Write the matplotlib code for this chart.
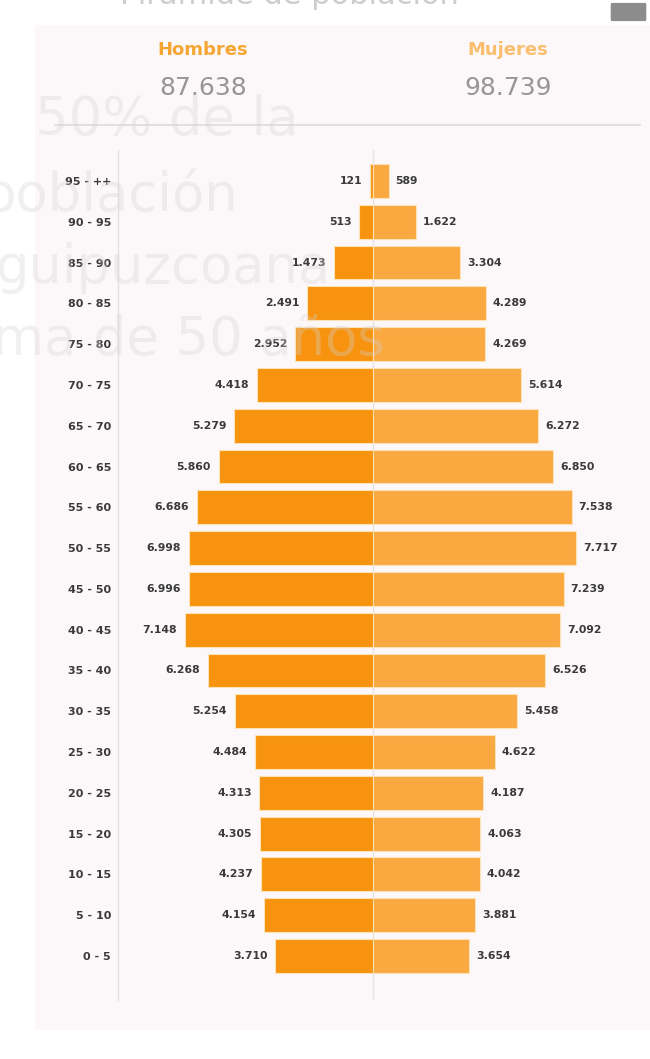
import matplotlib
matplotlib.use("Agg")
import matplotlib.pyplot as plt
from matplotlib.patches import Rectangle, FancyBboxPatch

# ---------------- data ----------------
age_groups = ["0 - 5", "5 - 10", "10 - 15", "15 - 20", "20 - 25", "25 - 30",
              "30 - 35", "35 - 40", "40 - 45", "45 - 50", "50 - 55", "55 - 60",
              "60 - 65", "65 - 70", "70 - 75", "75 - 80", "80 - 85", "85 - 90",
              "90 - 95", "95 - ++"]
hombres = [3710, 4154, 4237, 4305, 4313, 4484, 5254, 6268, 7148, 6996,
           6998, 6686, 5860, 5279, 4418, 2952, 2491, 1473, 513, 121]
mujeres = [3654, 3881, 4042, 4063, 4187, 4622, 5458, 6526, 7092, 7239,
           7717, 7538, 6850, 6272, 5614, 4269, 4289, 3304, 1622, 589]
total_hombres = "87.638"
total_mujeres = "98.739"
ghost_lines = ["50% de la", "población", "guipuzcoana", "por encima de 50 años"]

W, H = 650, 1059
fig = plt.figure(figsize=(W / 100, H / 100), dpi=100)
fig.patch.set_facecolor("white")

def px_rect(x0, y0, x1, y1):
    return [x0 / W, 1 - y1 / H, (x1 - x0) / W, (y1 - y0) / H]

# background panel
fig.patches.append(Rectangle((35 / W, 1 - 1030 / H), (650 - 35) / W, (1030 - 25) / H,
                             transform=fig.transFigure, facecolor="#FCF8FA",
                             edgecolor="none", zorder=-5))
# header separator
fig.add_artist(plt.Line2D([55 / W, 640 / W], [1 - 125 / H, 1 - 125 / H],
                          transform=fig.transFigure, color="#DDDADC", lw=1.2, zorder=-4))

# top cropped title & button
fig.text(120 / W, 1 - (-5) / H, "Pirámide de población", fontsize=22, color="#CFCCCE",
         ha="left", va="center")
fig.patches.append(FancyBboxPatch((612 / W, 1 - 19 / H), 33 / W, 14 / H,
                                  boxstyle="round,pad=0.002", transform=fig.transFigure,
                                  facecolor="#8C8C8C", edgecolor="none"))

# header
fig.text(203 / W, 1 - 50 / H, "Hombres", fontsize=13, fontweight="bold",
         color="#F5A632", ha="center", va="center")
fig.text(203 / W, 1 - 88 / H, total_hombres, fontsize=18, color="#969696",
         ha="center", va="center")
fig.text(508 / W, 1 - 50 / H, "Mujeres", fontsize=13, fontweight="bold",
         color="#F9BE6E", ha="center", va="center")
fig.text(508 / W, 1 - 88 / H, total_mujeres, fontsize=18, color="#969696",
         ha="center", va="center")

# pyramid axes
ax = fig.add_axes(px_rect(118, 150, 628, 1000))
ax.set_zorder(1)
ax.set_facecolor("none")
scale = 0.02635  # px per person
half = 255 / scale
ax.set_xlim(-half, half)
ax.set_ylim(-(1000 - 956) / 40.79, (956 - 150) / 40.79)

y = list(range(len(age_groups)))
neg_h = [-v for v in hombres]
ax.axvline(0, color="#E6E2E5", lw=1, zorder=0)
ax.barh(y, neg_h, height=0.83, color="#F7930F", edgecolor="#FCE3B6", linewidth=0.8, zorder=2)
ax.barh(y, mujeres, height=0.83, color="#F9A940", edgecolor="#FCE3B6", linewidth=0.8, zorder=2)

def fmt(v):
    return f"{v:,}".replace(",", ".")

for yi, v in zip(y, hombres):
    ax.annotate(fmt(v), xy=(-v, yi), xytext=(-5.5, 0), textcoords="offset points",
                ha="right", va="center", fontsize=7.8, fontweight="bold", color="#3A3A3A",
                zorder=3)
for yi, v in zip(y, mujeres):
    ax.annotate(fmt(v), xy=(v, yi), xytext=(5, 0), textcoords="offset points",
                ha="left", va="center", fontsize=7.8, fontweight="bold", color="#3A3A3A",
                zorder=3)

ax.set_yticks(y)
ax.set_yticklabels(age_groups, fontsize=8, fontweight="bold", color="#3A3A3A")
ax.tick_params(axis="y", length=0, pad=5)
ax.set_xticks([])
for s in ["top", "right", "bottom"]:
    ax.spines[s].set_visible(False)
ax.spines["left"].set_color("#E4E0E3")
ax.spines["left"].set_linewidth(1)

# faded overlay text (screenshot transition)
ghost_pos = [(35, 120, "left"), (238, 195, "right"), (-5, 268, "left"), (385, 340, "right")]
for (gx, gy, ha), txt in zip(ghost_pos, ghost_lines):
    fig.text(gx / W, 1 - gy / H, txt, fontsize=38, color="#D4D2D4", alpha=0.32,
             ha=ha, va="center", zorder=10)

fig.savefig("out.png", dpi=100, facecolor=fig.get_facecolor())
